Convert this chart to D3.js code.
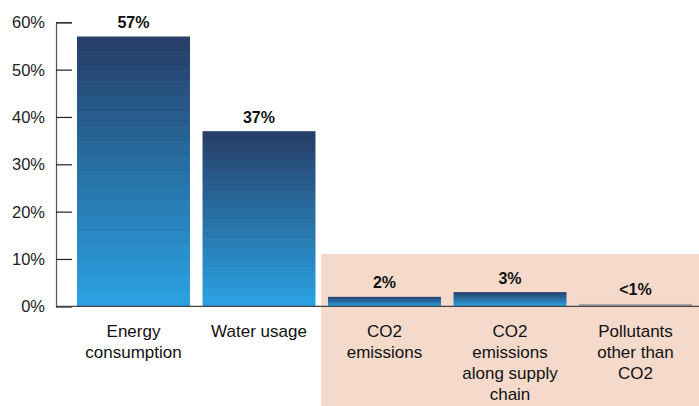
<!DOCTYPE html>
<html><head><meta charset="utf-8">
<script src="https://cdn.jsdelivr.net/npm/d3@7"></script>
<style>body{margin:0;background:#fff}svg{display:block}text{font-family:"Liberation Sans",Arial,sans-serif}</style>
</head><body><svg id="c" width="699" height="406"></svg>
<script>
const categories = [["Energy","consumption"],["Water usage"],["CO2","emissions"],["CO2","emissions","along supply","chain"],["Pollutants","other than","CO2"]];
const values = [57, 37, 2, 3, 0.5];
const valueLabels = ["57%","37%","2%","3%","<1%"];
const yTicks = [0,10,20,30,40,50,60];

(function(){
const svg = d3.select("#c");
const x = d3.scaleBand().domain(d3.range(values.length)).range([72, 697]).paddingInner(0.1).paddingOuter(0.04);
const y = d3.scaleLinear().domain([0,60]).range([306.3, 22.3]);

// highlight background
svg.append("rect").attr("x", x(2)-7).attr("y", 254).attr("width", 699-(x(2)-7)).attr("height", 152).attr("fill", "#f5dacc");

// stepped gradient
const defs = svg.append("defs");
const g = defs.append("linearGradient").attr("id","bg").attr("x1",0).attr("y1",0).attr("x2",0).attr("y2",1);
const cTop = d3.rgb("#26406a"), cBot = d3.rgb("#2aa0e0");
const steps = 18;
const interp = d3.interpolateRgb(cTop, cBot);
for (let i=0;i<steps;i++){
  const c = interp(i/(steps-1));
  g.append("stop").attr("offset", i/steps).attr("stop-color", c);
  g.append("stop").attr("offset", (i+1)/steps).attr("stop-color", c);
}

svg.selectAll("rect.bar").data(values).enter().append("rect").attr("class","bar")
  .attr("x",(d,i)=>x(i)).attr("width",x.bandwidth())
  .attr("y",d=>y(d)).attr("height",d=>y(0)-y(d))
  .attr("fill",(d,i)=> i===4 ? "#a3a3a3" : "url(#bg)");

// axis
const ax = svg.append("g").attr("transform","translate(56,0)")
  .call(d3.axisRight(y).tickValues(yTicks).tickSize(16).tickFormat(""));
ax.select(".domain").attr("stroke","#555").attr("stroke-width",1.2);
ax.selectAll(".tick line").attr("stroke","#222").attr("stroke-width",1.2);
svg.selectAll("text.yt").data(yTicks).enter().append("text").attr("class","yt")
  .attr("x",45).attr("y",d=>y(d)+6).attr("text-anchor","end")
  .attr("font-size",16.5).attr("fill","#222").text(d=>d+"%");

// baseline
svg.append("line").attr("x1",56).attr("x2",699).attr("y1",y(0)).attr("y2",y(0)).attr("stroke","#444").attr("stroke-width",1.3);

// value labels
svg.selectAll("text.vl").data(values).enter().append("text").attr("class","vl")
  .attr("x",(d,i)=>x(i)+x.bandwidth()/2).attr("y",d=>y(d)-8.5)
  .attr("text-anchor","middle").attr("font-size",16).attr("font-weight","bold").attr("fill","#111")
  .text((d,i)=>valueLabels[i]);

// category labels
categories.forEach((lines,i)=>{
  const t = svg.append("text").attr("x",x(i)+x.bandwidth()/2).attr("y",337).attr("text-anchor","middle")
    .attr("font-size",17).attr("fill","#111");
  lines.forEach((l,j)=>t.append("tspan").attr("x",x(i)+x.bandwidth()/2).attr("dy", j===0?0:21).text(l));
});
})();
</script></body></html>
